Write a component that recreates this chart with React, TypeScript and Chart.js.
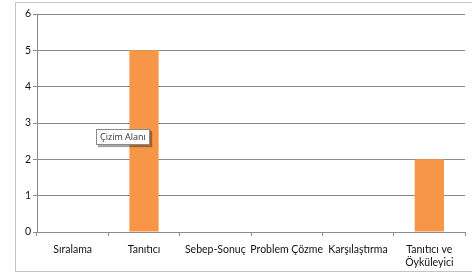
import React, { useEffect, useRef } from "react";
import { Chart, registerables } from "chart.js";

Chart.register(...registerables);

const categories: (string | string[])[] = [
  "Sıralama",
  "Tanıtıcı",
  "Sebep-Sonuç",
  "Problem Çözme",
  "Karşılaştırma",
  ["Tanıtıcı ve", "Öyküleyici"],
];
const values: number[] = [0, 5, 0, 0, 0, 2];
const yMin = 0;
const yMax = 6;
const yStep = 1;

export default function App() {
  const ref = useRef<HTMLCanvasElement | null>(null);

  useEffect(() => {
    document.body.style.margin = "0";
    document.body.style.overflow = "hidden";
    const canvas = ref.current;
    if (!canvas) return;
    const grid = "#8a8a8a";
    const chart = new Chart(canvas, {
      type: "bar",
      data: {
        labels: categories,
        datasets: [
          {
            data: values,
            backgroundColor: "#F79646",
            borderWidth: 0,
            barPercentage: 0.41,
            categoryPercentage: 1,
          },
        ],
      },
      options: {
        responsive: false,
        animation: false,
        devicePixelRatio: 1,
        layout: { padding: { left: 17, top: 14, right: 7, bottom: 4 } },
        plugins: {
          legend: { display: false },
          tooltip: { enabled: false },
        },
        scales: {
          x: {
            offset: true,
            grid: {
              display: true,
              drawOnChartArea: false,
              drawTicks: true,
              tickLength: 4,
              color: grid,
              offset: true,
            },
            border: { display: true, color: grid, width: 1 },
            ticks: {
              color: "#111",
              font: { family: "Lato", size: 10.5, lineHeight: 1.15 },
              padding: 8,
              maxRotation: 0,
              autoSkip: false,
            },
            afterFit: (s: any) => {
              s.height = 36;
            },
          },
          y: {
            min: yMin,
            max: yMax,
            ticks: {
              stepSize: yStep,
              color: "#111",
              font: { family: "Lato", size: 10.5 },
              padding: 2,
            },
            grid: { color: grid, tickLength: 4 },
            border: { display: true, color: grid, width: 1 },
            afterFit: (s: any) => {
              s.width = 20;
            },
          },
        },
      },
    });
    return () => chart.destroy();
  }, []);

  return (
    <div
      style={{
        position: "fixed",
        left: 0,
        top: 0,
        width: 472,
        height: 272,
        overflow: "hidden",
        background: "#fff",
      }}
    >
      <div
        style={{
          position: "absolute",
          left: 15,
          top: 2,
          width: 480,
          height: 268,
          border: "1px solid #c4c4c4",
          boxShadow: "1px 1px 1px #e0e0e0",
        }}
      />
      <canvas
        ref={ref}
        width={472}
        height={272}
        style={{ position: "absolute", left: 0, top: 0, width: 472, height: 272 }}
      />
      <div
        style={{
          position: "absolute",
          left: 96,
          top: 129,
          height: 14,
          padding: "0 3px",
          border: "1px solid #8a8a8a",
          background: "#fff",
          boxShadow: "2px 2px 1px rgba(0,0,0,0.35)",
          font: "9px 'Open Sans'",
          lineHeight: "14px",
          color: "#333",
          whiteSpace: "nowrap",
        }}
      >
        Çizim Alanı
      </div>
    </div>
  );
}
